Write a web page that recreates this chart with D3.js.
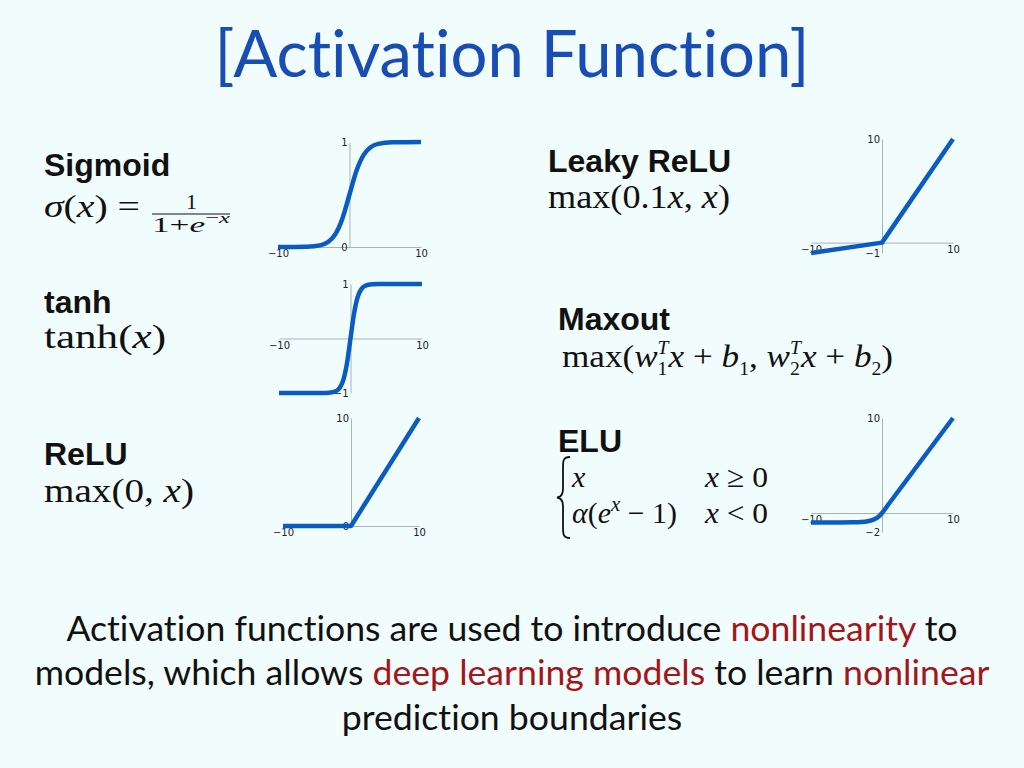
<!DOCTYPE html>
<html>
<head>
<meta charset="utf-8">
<script src="https://cdn.jsdelivr.net/npm/d3@7"></script>
<style>
  body { margin: 0; background: #f1fcfd; }
  svg text { white-space: pre; font-variant-ligatures: none; font-feature-settings: "liga" 0; }
</style>
</head>
<body>
<div id="chart"></div>
<script>
// values
const xTicks = [-10, 10];

const sigmoidX = [-10, -6, -4, -3, -2, -1, 0, 1, 2, 3, 4, 6, 10];
const sigmoidY = [0, 0.003, 0.018, 0.047, 0.12, 0.27, 0.5, 0.73, 0.88, 0.953, 0.982, 0.997, 1];
const sigmoidTicks = [0, 1];

const tanhX = [-10, -4, -3, -2, -1.5, -1, -0.5, 0, 0.5, 1, 1.5, 2, 3, 4, 10];
const tanhY = [-1, -0.999, -0.995, -0.964, -0.905, -0.76, -0.46, 0, 0.46, 0.76, 0.905, 0.964, 0.995, 0.999, 1];
const tanhTicks = [-1, 1];

const reluX = [-10, 0, 10];
const reluY = [0, 0, 10];
const reluTicks = [0, 10];

const leakyX = [-10, 0, 10];
const leakyY = [-1, 0, 10];
const leakyTicks = [-1, 10];

const eluX = [-10, -6, -4, -3, -2, -1.5, -1, -0.5, 0, 1, 2, 10];
const eluY = [-1, -0.998, -0.982, -0.95, -0.865, -0.777, -0.632, -0.393, 0, 1, 2, 10];
const eluTicks = [-2, 10];

const titleText = "[Activation Function]";
const bottomLines = [
  [["Activation functions are used to introduce ", 0], ["nonlinearity", 1], [" to", 0]],
  [["models, which allows ", 0], ["deep learning models", 1], [" to learn ", 0], ["nonlinear", 1]],
  [["prediction boundaries", 0]]
];

const width = 1024, height = 768;
const blue = "#0b5cc0";
const svg = d3.select("#chart").append("svg").attr("width", width).attr("height", height);
svg.append("rect").attr("width", width).attr("height", height).attr("fill", "#f1fcfd");

// panels
const panels = [
  {xs: sigmoidX, ys: sigmoidY, yDomain: [0, 1], yTicks: sigmoidTicks, smooth: true, left: 278, right: 421, top: 142, bottom: 247},
  {xs: tanhX, ys: tanhY, yDomain: [-1, 1], yTicks: tanhTicks, smooth: true, left: 279, right: 422, top: 284, bottom: 393},
  {xs: reluX, ys: reluY, yDomain: [0, 10], yTicks: reluTicks, smooth: false, left: 283, right: 419, top: 418, bottom: 526},
  {xs: leakyX, ys: leakyY, yDomain: [-1, 10], yTicks: leakyTicks, smooth: false, left: 811, right: 953, top: 139, bottom: 253},
  {xs: eluX, ys: eluY, yDomain: [-2, 10], yTicks: eluTicks, smooth: true, left: 811, right: 953, top: 418, bottom: 532}
];

function drawPanel(p) {
  const x = d3.scaleLinear().domain([-10, 10]).range([p.left, p.right]);
  const y = d3.scaleLinear().domain(p.yDomain).range([p.bottom, p.top]);
  const g = svg.append("g");

  const xa = g.append("g")
    .attr("transform", `translate(0,${y(0)})`)
    .call(d3.axisBottom(x).tickValues(xTicks).tickSize(0).tickPadding(3).tickFormat(d3.format("d")));
  const ya = g.append("g")
    .attr("transform", `translate(${x(0)},0)`)
    .call(d3.axisLeft(y).tickValues(p.yTicks).tickSize(0).tickPadding(2).tickFormat(d3.format("d")));
  [xa, ya].forEach(a => {
    a.select(".domain").attr("stroke", "#a9b2ba").attr("stroke-width", 1);
    a.selectAll("text").attr("font-family", "DejaVu Sans").attr("font-size", 10).attr("fill", "#222");
  });

  const line = d3.line()
    .x(d => x(d[0]))
    .y(d => y(d[1]))
    .curve(p.smooth ? d3.curveMonotoneX : d3.curveLinear);
  g.append("path")
    .datum(d3.zip(p.xs, p.ys))
    .attr("fill", "none")
    .attr("stroke", blue)
    .attr("stroke-width", 4.5)
    .attr("stroke-linejoin", "round")
    .attr("d", line);
}
panels.forEach(drawPanel);

// title
const title = svg.append("text")
  .attr("x", 512).attr("y", 77)
  .attr("text-anchor", "middle")
  .attr("font-family", "Lato, 'Open Sans', sans-serif")
  .attr("font-size", 70)
  .attr("fill", "#1a4db3")
  .text(titleText);
const tw = title.node().getComputedTextLength();
title.attr("font-size", 70 * 595 / tw);

// names
const names = [["Sigmoid", 44, 176], ["tanh", 44, 313], ["ReLU", 44, 465],
  ["Leaky ReLU", 548, 172], ["Maxout", 558, 330], ["ELU", 558, 452]];
svg.selectAll(".name").data(names).join("text")
  .attr("class", "name")
  .attr("x", d => d[1]).attr("y", d => d[2])
  .attr("font-family", "'Liberation Sans', Arial, sans-serif")
  .attr("font-weight", "bold").attr("font-size", 32).attr("fill", "#111")
  .text(d => d[0]);

// math text helper: lays pieces left to right, optional stacking
function mathRow(x, y, pieces, size, target) {
  const g = svg.append("g");
  let cx = 0, supStart = 0;
  pieces.forEach(p => {
    if (typeof p === "string") p = {t: p};
    const s = size * (p.s || 1);
    const startX = p.back ? supStart : cx;
    const t = g.append("text")
      .attr("x", startX).attr("y", -(p.up || 0) * size)
      .attr("font-family", "'Liberation Serif', 'Times New Roman', serif")
      .attr("font-style", p.i ? "italic" : "normal")
      .attr("font-size", s).attr("fill", "#111")
      .text(p.t);
    const w = t.node().getComputedTextLength();
    if (p.back) cx = Math.max(cx, startX + w);
    else { supStart = cx; cx += w; }
  });
  const sx = target ? target / cx : 1;
  g.attr("transform", `translate(${x},${y}) scale(${sx},1)`);
  return g;
}

const X = {t: "x", i: true};
mathRow(44, 217, [{t: "σ", i: true}, "(", X, ")", " ="], 32, 96);
svg.append("line").attr("x1", 152).attr("x2", 230).attr("y1", 214).attr("y2", 214)
  .attr("stroke", "#111").attr("stroke-width", 1.2);
mathRow(186, 209, ["1"], 22, 0);
mathRow(152, 232, ["1+", {t: "e", i: true}, {t: "−", s: 0.7, up: 0.4}, {t: "x", i: true, s: 0.7, up: 0.4}], 22, 78);

mathRow(44, 348, ["tanh(", X, ")"], 34, 122);
mathRow(44, 502, ["max(0, ", X, ")"], 34, 150);
mathRow(548, 208, ["max(0.1", X, ", ", X, ")"], 34, 182);

const sub1 = {t: "1", s: 0.56, up: -0.26};
const sub2 = {t: "2", s: 0.56, up: -0.26};
const supT = {t: "T", i: true, s: 0.56, up: 0.4};
mathRow(562, 367, ["max(", {t: "w", i: true}, supT, Object.assign({back: true}, sub1),
  X, " + ", {t: "b", i: true}, sub1, ", ",
  {t: "w", i: true}, supT, Object.assign({back: true}, sub2),
  X, " + ", {t: "b", i: true}, sub2, ")"], 32, 331);

// ELU cases
svg.append("path")
  .attr("d", "M570,457 C563,457 563,461 563,468 L563,489 C563,494 561,497 557,497.5 C561,498 563,501 563,506 L563,527 C563,534 563,538 570,538")
  .attr("fill", "none").attr("stroke", "#111").attr("stroke-width", 1.8);
mathRow(572, 487, [X], 30, 0);
mathRow(705, 487, [X, " ≥ 0"], 30, 63);
mathRow(572, 523, [{t: "α", i: true}, "(", {t: "e", i: true}, {t: "x", i: true, s: 0.7, up: 0.4}, " − 1)"], 30, 105);
mathRow(705, 523, [X, " < 0"], 30, 63);

// bottom caption
const baselines = [641, 685, 730];
const caption = svg.append("g");
const rows = caption.selectAll("text").data(bottomLines).join("text")
  .attr("x", 512).attr("y", (d, i) => baselines[i])
  .attr("text-anchor", "middle")
  .attr("font-family", "Lato, 'Open Sans', sans-serif")
  .attr("font-size", 32);
rows.selectAll("tspan").data(d => d).join("tspan")
  .attr("fill", d => d[1] ? "#a3161a" : "#111")
  .text(d => d[0]);
const w2 = rows.nodes()[1].getComputedTextLength();
rows.attr("font-size", 32 * 955 / w2);
</script>
</body>
</html>
